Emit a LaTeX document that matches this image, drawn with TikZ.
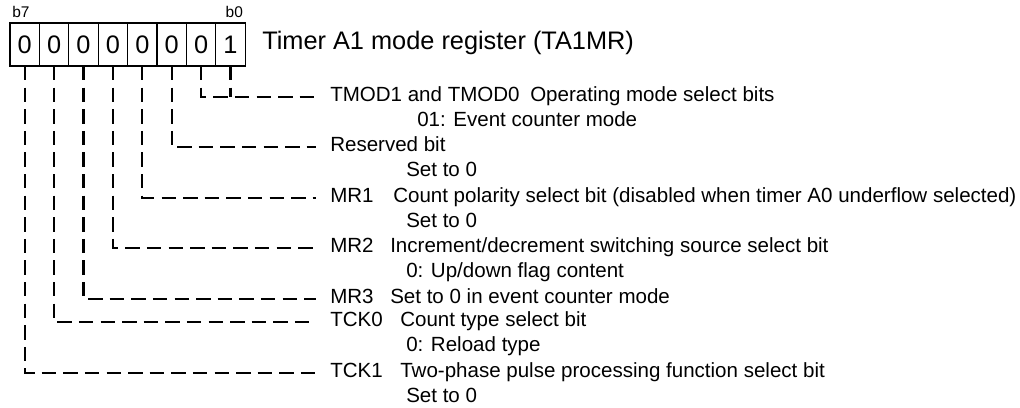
\documentclass[tikz,border=0pt]{standalone}
\usepackage{fontspec}
\setmainfont{Liberation Sans}
\usetikzlibrary{positioning}

\tikzset{
  cell/.style={draw, line width=0.8pt, minimum width=22.05pt, minimum height=32.25pt,
    inner sep=0pt, outer sep=0pt, font=\fontsize{19}{19}\selectfont},
  conn/.style={line width=1.7pt, dash pattern=on 10.8pt off 5.4pt},
  lbl/.style={anchor=west, inner xsep=10.5pt, inner ysep=0pt, text height=0.72em,
    text depth=0pt, font=\fontsize{15.4}{18}\selectfont},
  txt/.style={anchor=west, inner sep=0pt, text height=0.72em, text depth=0pt,
    font=\fontsize{15.4}{18}\selectfont},
}

\begin{document}
\begin{tikzpicture}[x=0.75pt,y=-0.75pt]
  \useasboundingbox (0,0) rectangle (1020,407);

  % register cells, b7 on the left
  \node[cell] (c7) at (24.7,44.5) {0};
  \node[cell, right=0pt of c7] (c6) {0};
  \node[cell, right=0pt of c6] (c5) {0};
  \node[cell, right=0pt of c5] (c4) {0};
  \node[cell, right=0pt of c4] (c3) {0};
  \node[cell, right=0pt of c3] (c2) {0};
  \node[cell, right=0pt of c2] (c1) {0};
  \node[cell, right=0pt of c1] (c0) {1};

  \node[anchor=base west, inner sep=0pt, font=\fontsize{11.6}{12}\selectfont] (b7)
    at ([shift={(2,-6)}]c7.north west) {b7};
  \node[anchor=base east, inner sep=0pt, font=\fontsize{11.6}{12}\selectfont] (b0)
    at ([shift={(-2,-6)}]c0.north east) {b0};

  \node[txt, font=\fontsize{19}{22}\selectfont] (title) at (262,44.5)
    {Timer A1 mode register (TA1MR)};

  % bit descriptions
  \node[lbl] (tmod) at (316,97) {TMOD1 and TMOD0};
  \node[txt] (tmodd) at (530,97) {Operating mode select bits};
  \node[txt] (tmods) at (417,122) {01: Event counter mode};

  \node[lbl] (rsv) at (316,147) {Reserved bit};
  \node[txt] (rsvs) at (406,172) {Set to 0};

  \node[lbl] (mr1) at (316,198) {MR1};
  \node[txt] (mr1d) at (393,198)
    {Count polarity select bit (disabled when timer A0 underflow selected)};
  \node[txt] (mr1s) at (406,223) {Set to 0};

  \node[lbl] (mr2) at (316,248) {MR2};
  \node[txt] (mr2d) at (390,248) {Increment/decrement switching source select bit};
  \node[txt] (mr2s) at (406,273) {0: Up/down flag content};

  \node[lbl] (mr3) at (316,299) {MR3};
  \node[txt] (mr3d) at (390,299) {Set to 0 in event counter mode};

  \node[lbl] (tck0) at (316,322) {TCK0};
  \node[txt] (tck0d) at (400,322) {Count type select bit};
  \node[txt] (tck0s) at (406,347) {0: Reload type};

  \node[lbl] (tck1) at (316,373) {TCK1};
  \node[txt] (tck1d) at (400,373) {Two-phase pulse processing function select bit};
  \node[txt] (tck1s) at (406,398) {Set to 0};

  % leader lines
  \draw[conn] (c1.south) |- (tmod.west);
  \draw[conn] (c0.south) -- (c0.south |- tmod.west);
  \draw[conn] (c2.south) |- (rsv.west);
  \draw[conn] (c3.south) |- (mr1.west);
  \draw[conn] (c4.south) |- (mr2.west);
  \draw[conn] (c5.south) |- (mr3.west);
  \draw[conn] (c6.south) |- (tck0.west);
  \draw[conn] (c7.south) |- (tck1.west);
\end{tikzpicture}
\end{document}
